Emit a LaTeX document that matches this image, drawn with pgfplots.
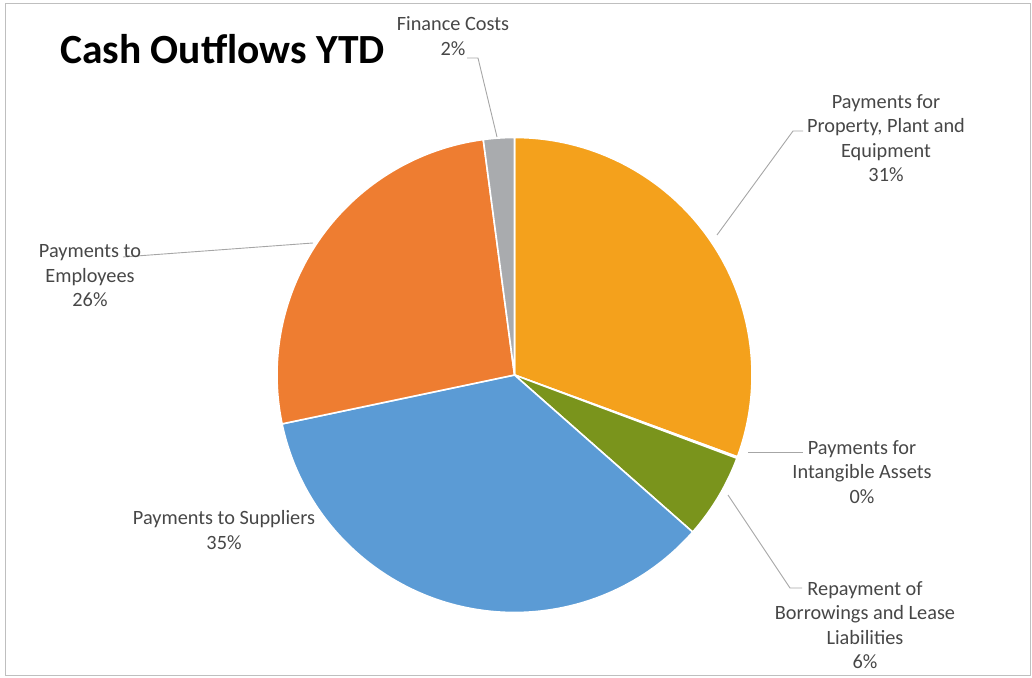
\documentclass[border=0pt]{standalone}
\usepackage{pgfplots}
\pgfplotsset{compat=1.18}
\usepackage{pgfplotstable}
\usepackage{fontspec}
\setmainfont{Carlito}
\definecolor{cPPE}{HTML}{F4A11C}
\definecolor{cInt}{HTML}{4472C4}
\definecolor{cRep}{HTML}{7A941C}
\definecolor{cSup}{HTML}{5B9BD5}
\definecolor{cEmp}{HTML}{EE7D31}
\definecolor{cFin}{HTML}{A9ABAE}
\definecolor{labgray}{HTML}{474747}
\definecolor{leadgray}{HTML}{A6A6A6}
\definecolor{framegray}{HTML}{BFBFBF}

\pgfplotstableread{
name value
PPE 30.6
Intangible 0.1
Repayment 5.8
Suppliers 35.2
Employees 26.2
Finance 2.1
}\piedata

\begin{document}
\begin{tikzpicture}
\pgfplotstablegetelem{0}{value}\of\piedata \let\vA\pgfplotsretval
\pgfplotstablegetelem{1}{value}\of\piedata \let\vB\pgfplotsretval
\pgfplotstablegetelem{2}{value}\of\piedata \let\vC\pgfplotsretval
\pgfplotstablegetelem{3}{value}\of\piedata \let\vD\pgfplotsretval
\pgfplotstablegetelem{4}{value}\of\piedata \let\vE\pgfplotsretval
\pgfplotstablegetelem{5}{value}\of\piedata \let\vF\pgfplotsretval
\pgfmathsetmacro\aO{90}
\pgfmathsetmacro\aA{\aO-3.6*\vA}
\pgfmathsetmacro\aB{\aA-3.6*\vB}
\pgfmathsetmacro\aC{\aB-3.6*\vC}
\pgfmathsetmacro\aD{\aC-3.6*\vD}
\pgfmathsetmacro\aE{\aD-3.6*\vE}
\pgfmathsetmacro\aF{\aE-3.6*\vF}
\def\R{237.5pt}
\begin{axis}[
  scale only axis, width=1032pt, height=677pt,
  xmin=0, xmax=1032, ymin=0, ymax=677,
  enlargelimits=false, hide axis, clip=false,
]
\path (axis cs:0,0) rectangle (axis cs:1032,677);
\draw[framegray, line width=1pt] (axis cs:5,2) rectangle (axis cs:1030,673);
\tikzset{slice/.style={draw=white, line width=1.6pt, line join=round}}
\filldraw[slice, fill=cPPE] (axis cs:514.5,302) -- ++(\aO:\R) arc[start angle=\aO, end angle=\aA, radius=\R] -- cycle;
\filldraw[slice, fill=cInt] (axis cs:514.5,302) -- ++(\aA:\R) arc[start angle=\aA, end angle=\aB, radius=\R] -- cycle;
\filldraw[slice, fill=cRep] (axis cs:514.5,302) -- ++(\aB:\R) arc[start angle=\aB, end angle=\aC, radius=\R] -- cycle;
\filldraw[slice, fill=cSup] (axis cs:514.5,302) -- ++(\aC:\R) arc[start angle=\aC, end angle=\aD, radius=\R] -- cycle;
\filldraw[slice, fill=cEmp] (axis cs:514.5,302) -- ++(\aD:\R) arc[start angle=\aD, end angle=\aE, radius=\R] -- cycle;
\filldraw[slice, fill=cFin] (axis cs:514.5,302) -- ++(\aE:\R) arc[start angle=\aE, end angle=\aF, radius=\R] -- cycle;
% leader lines
\draw[leadgray, line width=0.9pt] (axis cs:467,619) -- (axis cs:478,619) -- (axis cs:497,540);
\draw[leadgray, line width=0.9pt] (axis cs:803,546) -- (axis cs:793,546) -- (axis cs:717,442);
\draw[leadgray, line width=0.9pt] (axis cs:748,225) -- (axis cs:803,225);
\draw[leadgray, line width=0.9pt] (axis cs:728,182) -- (axis cs:790,89) -- (axis cs:802,89);
\draw[leadgray, line width=0.9pt] (axis cs:313,434) -- (axis cs:123,420);
% labels
\tikzset{lab/.style={text=labgray, align=center, inner sep=0pt, font=\fontsize{20.3}{24.5}\selectfont}}
\node[lab] at (axis cs:453,641) {Finance Costs\\2\%};
\node[lab] at (axis cs:886,539) {Payments for\\Property, Plant and\\Equipment\\31\%};
\node[lab] at (axis cs:862,205) {Payments for\\Intangible Assets\\0\%};
\node[lab] at (axis cs:865,52) {Repayment of\\Borrowings and Lease\\Liabilities\\6\%};
\node[lab] at (axis cs:90,401) {Payments to\\Employees\\26\%};
\node[lab] at (axis cs:224,147) {Payments to Suppliers\\35\%};
\node[anchor=base west, inner sep=0pt, font=\fontsize{41.5}{46}\selectfont\bfseries] at (axis cs:60,613.5) {Cash Outflows YTD};
\end{axis}
\end{tikzpicture}
\end{document}
